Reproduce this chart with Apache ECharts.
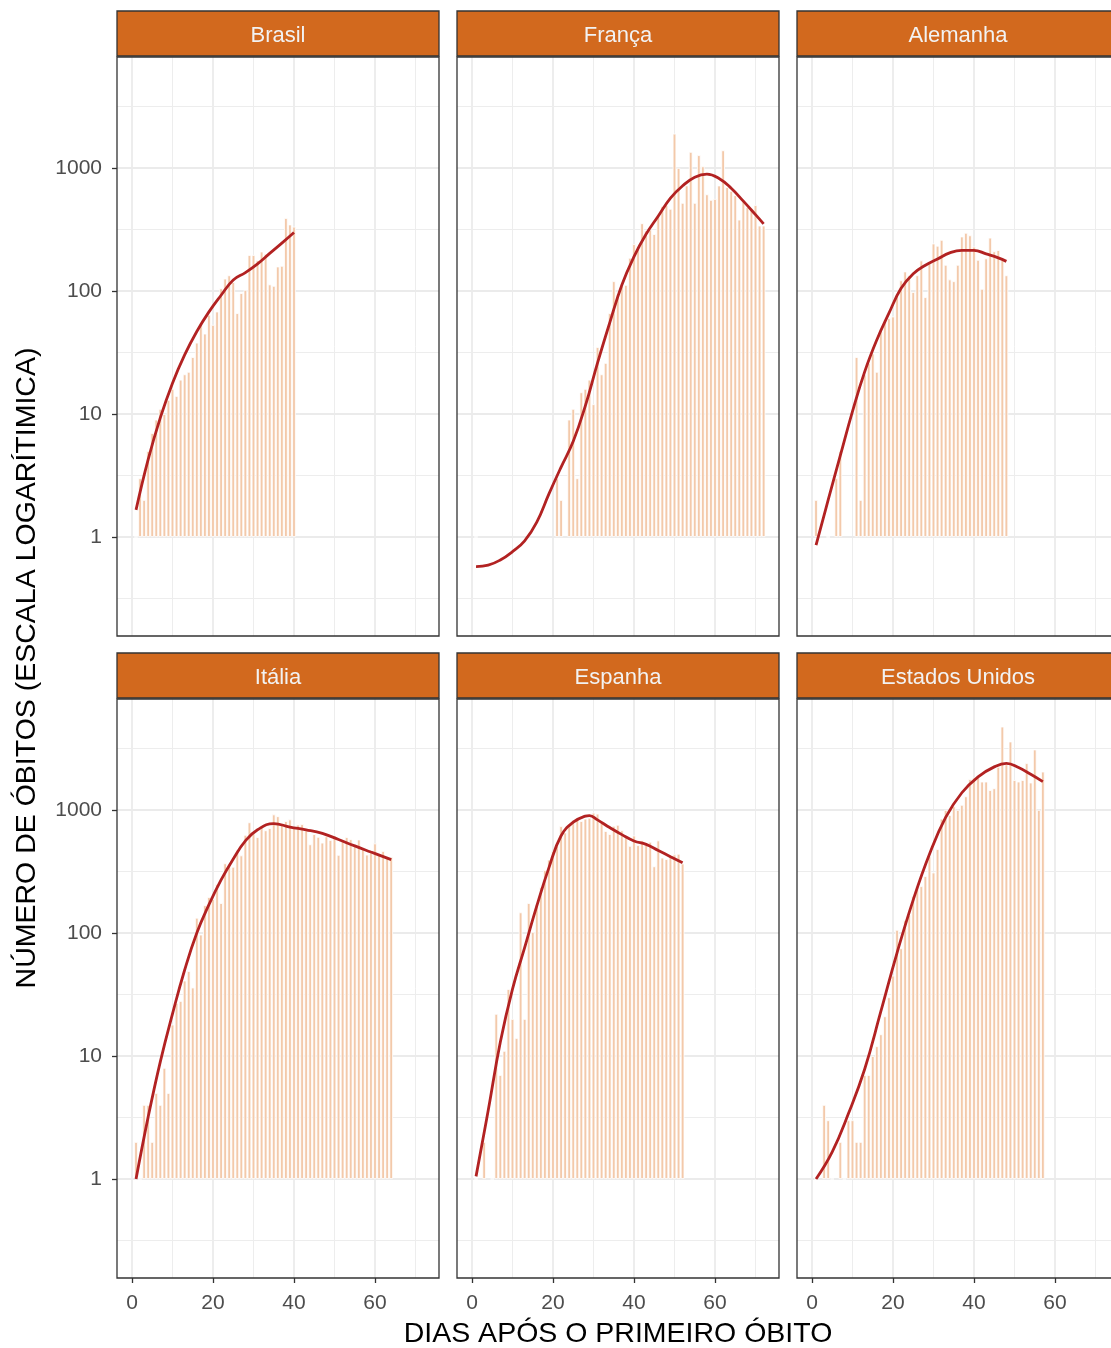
<!DOCTYPE html>
<html><head><meta charset="utf-8">
<script src="https://cdn.jsdelivr.net/npm/echarts@6/dist/echarts.min.js"></script>
<style>html,body{margin:0;padding:0;background:#fff}#c{width:1111px;height:1348px}</style>
</head><body><div id="c"></div>
<script>
// ---- data (daily deaths, day 1 = first death) ----
const paises = ['Brasil', 'França', 'Alemanha', 'Itália', 'Espanha', 'Estados Unidos'];

const obitosBrasil = [1,3,2,5,7,9,11,10,13,16,14,19,21,22,29,38,55,45,64,53,68,105,126,134,118,66,96,102,196,196,178,209,200,113,110,158,160,392,347,333];
const obitosFranca = [1,0,0,0,0,0,0,0,0,0,0,0,0,0,0,0,0,0,0,0,3,2,0,9,11,3,15,16,19,12,35,21,26,66,120,95,110,112,186,240,231,355,310,315,290,410,490,500,465,1900,1000,520,720,1350,520,1270,1030,610,550,560,720,1390,700,650,600,380,545,480,470,500,340,340];
const obitosAlemanha = [2,0,0,1,0,3,5,0,0,0,29,2,21,26,31,22,47,58,60,62,90,122,144,134,98,134,177,89,170,243,233,260,163,124,120,163,277,297,283,229,179,104,184,271,210,215,179,134];
const obitosItalia = [2,1,4,4,2,5,4,8,5,18,27,28,41,49,36,133,97,168,196,189,250,175,368,349,345,475,427,627,793,651,601,743,683,712,919,889,756,812,837,727,760,766,681,525,636,604,542,610,570,619,431,566,602,578,525,575,482,433,454,534,437,464,420,415];
const obitosEspanha = [1,0,2,0,1,22,7,11,35,20,14,147,20,175,102,169,235,324,394,462,514,738,655,769,832,838,812,849,864,950,932,809,674,637,743,757,683,605,510,619,517,567,523,551,348,565,410,399,430,435,440,367];
const obitosEUA = [1,0,4,3,1,0,2,1,3,3,2,2,7,7,10,12,15,21,30,45,106,75,127,140,200,240,240,290,420,310,480,850,1000,910,1070,1000,1100,1290,1780,1830,1900,1700,1700,1450,1500,2240,4760,2350,3600,1750,1700,1750,2400,1670,3100,1000,2050];

// smoothed trend (day, value)
const curvaDiasBrasil = [1,4,7,10,13,16,19,22,25,28,31,34,37,40];
const curvaBrasil = [1.66,4.27,9.33,17.8,30.2,46.8,67.6,92.3,123,141,166,202,245,299];
const curvaDiasFranca = [1,4,7,10,13,16,19,22,25,28,31,34,37,40,43,46,49,52,55,58,61,64,67,70,72];
const curvaFranca = [0.575,0.59,0.65,0.76,0.93,1.32,2.24,3.7,6.0,11.7,26,55,112,190,290,407,569,716,841,891,822,684,537,417,351];
const curvaDiasAlemanha = [1,4,7,10,13,16,19,22,25,28,31,34,37,40,43,46,48];
const curvaAlemanha = [0.86,2.0,4.6,10.5,22,40,66,105,138,162,182,204,214,214,200,186,174];
const curvaDiasItalia = [1,4,7,10,13,16,19,22,25,28,31,35,39,43,47,51,55,59,64];
const curvaItalia = [1.0,3.2,9,22,50,100,170,270,400,560,690,775,725,690,645,575,510,455,395];
const curvaDiasEspanha = [1,4,7,10,13,16,19,22,25,28,29,31,34,37,40,43,46,49,52];
const curvaEspanha = [1.05,3.6,13,35,76,166,340,617,795,890,900,830,720,630,560,525,468,417,372];
const curvaDiasEUA = [1,5,9,13,17,21,25,29,33,37,41,45,48,51,54,57];
const curvaEUA = [1.0,1.66,3.4,7.8,23,69,186,437,870,1380,1860,2240,2390,2210,1950,1700];

// axis ticks / grid breaks
const xTicks = [0, 20, 40, 60];
const xMinor = [10, 30, 50, 70];
const yTicks = [1, 10, 100, 1000];
const yMinor = [0.3162, 3.162, 31.62, 316.2, 3162];

const obitos = [obitosBrasil, obitosFranca, obitosAlemanha, obitosItalia, obitosEspanha, obitosEUA];
const curvaDias = [curvaDiasBrasil, curvaDiasFranca, curvaDiasAlemanha, curvaDiasItalia, curvaDiasEspanha, curvaDiasEUA];
const curvas = [curvaBrasil, curvaFranca, curvaAlemanha, curvaItalia, curvaEspanha, curvaEUA];

// ---- layout ----
const F = '"Liberation Sans", Arial, Helvetica, sans-serif';
const cols = [117, 457, 797], rows = [57, 699], W = 322, H = 579, stripH = 45;
const grids = [], xAxes = [], yAxes = [], series = [], graphics = [];

const majorStyle = {color: '#EBEBEB', width: 1.8, type: 'solid'};
const minorStyle = {color: '#EDEDED', width: 1.0, type: 'solid'};
const gridLines = [];
xTicks.forEach(v => gridLines.push({xAxis: v, lineStyle: majorStyle}));
xMinor.forEach(v => gridLines.push({xAxis: v, lineStyle: minorStyle}));
yTicks.forEach(v => gridLines.push({yAxis: v, lineStyle: majorStyle}));
yMinor.forEach(v => gridLines.push({yAxis: v, lineStyle: minorStyle}));

paises.forEach((p, i) => {
  const c = i % 3, r = Math.floor(i / 3);
  const left = cols[c], top = rows[r];
  grids.push({left, top, width: W, height: H, show: true, backgroundColor: '#fff', borderWidth: 0,
              containLabel: false, outerBoundsMode: 'none'});
  xAxes.push({
    gridIndex: i, type: 'value', min: -3.7, max: 75.8,
    splitLine: {show: false},
    axisLine: {show: false, onZero: false},
    axisTick: {show: r === 1, customValues: xTicks, length: 5, lineStyle: {color: '#333', width: 1.3}},
    axisLabel: {show: r === 1, customValues: xTicks, margin: 15, fontSize: 21, color: '#4D4D4D', fontFamily: F}
  });
  yAxes.push({
    gridIndex: i, type: 'log', logBase: 10, min: 0.1567, max: 7980,
    splitLine: {show: false},
    axisLine: {show: false, onZero: false},
    axisTick: {show: c === 0, customValues: yTicks, length: 5, lineStyle: {color: '#333', width: 1.3}},
    axisLabel: {show: c === 0, customValues: yTicks, margin: 15, fontSize: 21, color: '#4D4D4D', fontFamily: F,
                formatter: v => String(Math.round(v))}
  });
  const barData = [];
  obitos[i].forEach((v, k) => { if (v > 0) barData.push([k + 1, v]); });
  series.push({
    type: 'bar', xAxisIndex: i, yAxisIndex: i, data: barData, barWidth: 3.6, z: 2,
    itemStyle: {color: '#F3C9AA', borderColor: '#ffffff', borderWidth: 0.8},
    emphasis: {disabled: true}, silent: true,
    markLine: {silent: true, symbol: ['none', 'none'], label: {show: false}, z: 1, animation: false,
               emphasis: {disabled: true}, data: gridLines}
  });
  series.push({
    type: 'line', xAxisIndex: i, yAxisIndex: i, z: 3, silent: true,
    data: curvaDias[i].map((d, k) => [d, curvas[i][k]]),
    smooth: 0.45, symbol: 'none', lineStyle: {color: '#B22222', width: 2.8}
  });
  // panel border
  graphics.push({type: 'rect', z: 20, shape: {x: left, y: top, width: W, height: H},
                 style: {fill: 'none', stroke: '#333', lineWidth: 1.3}});
  // strip
  graphics.push({type: 'rect', z: 20, shape: {x: left, y: top - stripH - 1, width: W, height: stripH},
                 style: {fill: '#D2691E', stroke: '#333', lineWidth: 1.3}});
  graphics.push({type: 'text', z: 21, x: left + W / 2, y: top - stripH / 2 + 1,
                 style: {text: p, fill: '#F2F2F2', font: '22px ' + F, align: 'center', verticalAlign: 'middle'}});
});

graphics.push({type: 'text', z: 21, x: 618, y: 1334,
  style: {text: 'DIAS APÓS O PRIMEIRO ÓBITO', fill: '#000', font: '28.5px ' + F, align: 'center', verticalAlign: 'middle'}});
graphics.push({type: 'text', z: 21, x: 27, y: 668, rotation: Math.PI / 2,
  style: {text: 'NÚMERO DE ÓBITOS (ESCALA LOGARÍTIMICA)', fill: '#000', font: '28.5px ' + F, align: 'center', verticalAlign: 'middle'}});

const chart = echarts.init(document.getElementById('c'), null, {renderer: 'canvas'});
chart.setOption({
  animation: false,
  backgroundColor: '#fff',
  grid: grids, xAxis: xAxes, yAxis: yAxes, series,
  graphic: {elements: graphics}
});
</script></body></html>
